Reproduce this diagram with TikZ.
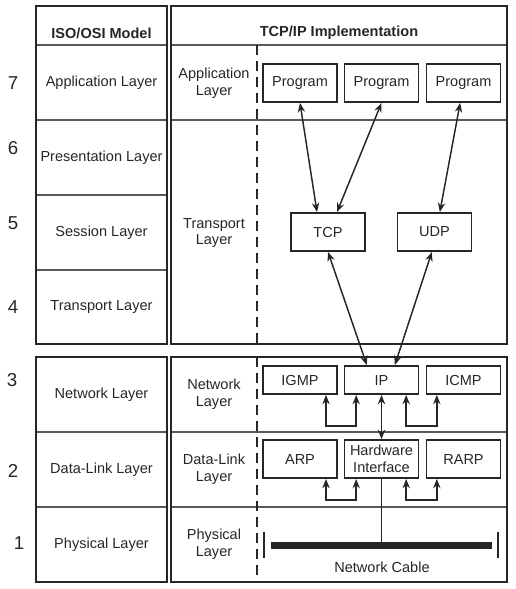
\documentclass[tikz,border=0pt]{standalone}
\usepackage{fontspec}
\setmainfont{Liberation Sans}
\usetikzlibrary{arrows.meta}

\begin{document}
\begin{tikzpicture}[x=0.75pt,y=-0.75pt,
  every node/.style={font=\fontsize{10.9}{12.5}\selectfont, text=black!85},
  frame/.style={draw=black!85, line width=1.5pt},
  rowline/.style={draw=black!65, line width=1.1pt},
  split/.style={draw=black!85, line width=1.4pt, dash pattern=on 7.5pt off 4.5pt},
  box/.style={draw=black!85, line width=1.4pt, minimum width=55.5pt, minimum height=28.5pt, inner sep=1pt, align=center},
  flatbox/.style={box, minimum height=21pt},
  lbl/.style={align=center},
  head/.style={font=\fontsize{10.9}{12.5}\selectfont\bfseries},
  num/.style={font=\fontsize{14}{16}\selectfont},
  link/.style={draw=black!85, line width=1.1pt, {Stealth[length=7pt,width=5.5pt]}-{Stealth[length=7pt,width=5.5pt]}}]
\useasboundingbox (0,0) rectangle (515,589);

\draw[rowline] (36,45) -- (167,45) (36,120) -- (167,120) (36,195) -- (167,195) (36,270) -- (167,270);
\draw[rowline] (171,45) -- (507,45) (171,120) -- (507,120);
\draw[rowline] (36,432) -- (167,432) (36,507) -- (167,507) (171,432) -- (507,432) (171,507) -- (507,507);
\draw[frame] (36,6) rectangle (167,344) (171,6) rectangle (507,344);
\draw[frame] (36,357) rectangle (167,582) (171,357) rectangle (507,582);
\draw[split] (257,45) -- (257,344) (257,357) -- (257,582);

\path (101.5,33) node[head](OsiHead){ISO/OSI Model} (339,33) node[head](TcpHead){TCP/IP Implementation};
\path (13,83) node[num](N7){7} (13,148) node[num](N6){6} (13,223) node[num](N5){5} (13,307) node[num](N4){4} (12,380) node[num](N3){3} (13,471) node[num](N2){2} (19,543) node[num](N1){1};
\path (101.5,83) node(Application){Application Layer} (101.5,157.5) node(Presentation){Presentation Layer} (101.5,232.5) node(Session){Session Layer} (101.5,307) node(Transport){Transport Layer} (101.5,394.5) node(Network){Network Layer} (101.5,469.5) node(DataLink){Data-Link Layer} (101.5,544.5) node(Physical){Physical Layer};
\path (214,83) node[lbl](AppRow){Application\\Layer} (214,233) node[lbl](TransRow){Transport\\Layer} (214,394.5) node[lbl](NetRow){Network\\Layer} (214,469.5) node[lbl](LinkRow){Data-Link\\Layer} (214,544.5) node[lbl](PhysRow){Physical\\Layer};

\path (300,83) node[box](ProgA){Program} (381.5,83) node[box](ProgB){Program} (463.5,83) node[box](ProgC){Program};
\path (328,232) node[box](TCP){TCP} (434.5,232) node[box](UDP){UDP};
\path (300,380) node[flatbox](IGMP){IGMP} (381.5,380) node[flatbox](IP){IP} (463.5,380) node[flatbox](ICMP){ICMP};
\path (300,459) node[box](ARP){ARP} (381.5,459) node[box](HW){Hardware\\Interface} (463.5,459) node[box](RARP){RARP};

\draw[link] (ProgA.south) -- ([xshift=-8.25pt]TCP.north);
\draw[link] (ProgB.south) -- ([xshift=6.75pt]TCP.north);
\draw[link] ([xshift=-2.5pt]ProgC.south) -- ([xshift=4pt]UDP.north);
\draw[link] (TCP.south) -- ([xshift=-11pt]IP.north);
\draw[link] ([xshift=-2pt]UDP.south) -- ([xshift=10pt]IP.north);
\draw[link] ([xshift=19.5pt]IGMP.south) -- ++(0,31) -| ([xshift=-19pt]IP.south);
\draw[link] ([xshift=18.5pt]IP.south) -- ++(0,31) -| ([xshift=-20pt]ICMP.south);
\draw[link] (IP) -- (HW);
\draw[link] ([xshift=19.5pt]ARP.south) -- ++(0,21) -| ([xshift=-19pt]HW.south);
\draw[link] ([xshift=18.5pt]HW.south) -- ++(0,21) -| ([xshift=-20pt]RARP.south);

\coordinate (CableW) at (271,545);
\coordinate (CableE) at (492,545);
\draw[draw=black!85, line width=5.25pt] (CableW) -- (CableE);
\draw[draw=black!85, line width=1.2pt] (264,532) -- (264,558) (498,532) -- (498,558);
\draw[draw=black!85, line width=1.4pt] (HW.south) -- (HW.south |- CableW);
\path (382,567) node(Cable){Network Cable};
\end{tikzpicture}
\end{document}
